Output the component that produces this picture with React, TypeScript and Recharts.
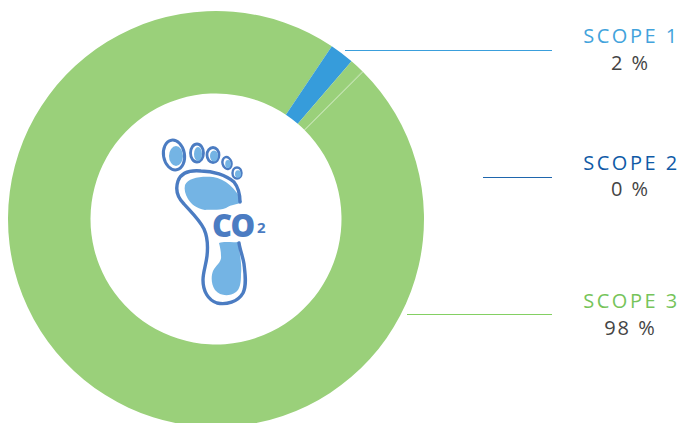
import React from 'react';
import { PieChart, Pie, Cell } from 'recharts';

// ring segments, clockwise from the seam at the upper right
const segmentNames = ['Scope 3', 'Scope 1', 'Scope 3 rest', 'Scope 2'];
const segmentValues = [96.9, 1.9, 1.12, 0.08];
const segmentColors = ['#9ad07a', '#369cdb', '#9ad07a', '#aad88f'];

const scopeNames = ['SCOPE 1', 'SCOPE 2', 'SCOPE 3'];
const scopeShares = ['2 %', '0 %', '98 %'];
const scopeColors = ['#42a3dc', '#0f5aa6', '#76c45a'];
const lineColors = ['#3a9fdc', '#1f66ad', '#84d063'];

const ringData = segmentNames.map((name, i) => ({ name, value: segmentValues[i] }));

const labelLayout = [
  { lineY: 50.5, lineX: 345, titleY: 43, shareY: 70 },
  { lineY: 177.5, lineX: 483, titleY: 170, shareY: 196 },
  { lineY: 314.5, lineX: 407, titleY: 308, shareY: 335 },
];

const FootIcon = () => {
  const outline = '#4b7cc2';
  const fill = '#74b4e4';
  return (
    <g>
      <path d="M185 185 C188 178 200 176 213 177 C225 179 236 188 242 202 C236 205 232 204 226 208 C218 211 209 209 205 210 C196 208 191 204 188 199 C185 194 184 189 185 185 Z" fill={fill} />
      <path d="M219 243 C225 241 232 243 238 242 C240 255 242 265 241 274 C241 283 240 289 236 292 C229 297 220 296 215 290 C211 284 211 276 213 271 C216 265 222 262 221 256 C221 251 220 247 219 243 Z" fill={fill} />
      <path d="M240 202 C240 194 238 187 234 182 C226 175 213 171 201 171 C190 170 181 173 178 181 C175 190 178 198 184 204 C191 212 199 219 204 229 C208 238 208 247 207 256 C206 265 203 272 203 280 C203 291 208 300 217 303 C226 305 238 302 243 293 C247 285 245 273 244 264 C243 257 240 250 239 243" fill="none" stroke={outline} strokeWidth={3.4} strokeLinecap="round" />
      <ellipse cx={174} cy={155} rx={10.5} ry={15} transform="rotate(-10 174 155)" fill="#fff" stroke={outline} strokeWidth={3} />
      <ellipse cx={176} cy={156} rx={7} ry={10} fill={fill} />
      <ellipse cx={197} cy={153} rx={6.5} ry={9} fill="#fff" stroke={outline} strokeWidth={2.8} />
      <ellipse cx={198} cy={154} rx={4} ry={7} fill={fill} />
      <ellipse cx={213} cy={155} rx={6} ry={7.5} fill="#fff" stroke={outline} strokeWidth={2.8} />
      <ellipse cx={214} cy={156} rx={4} ry={5.5} fill={fill} />
      <ellipse cx={227} cy={163} rx={4.5} ry={6} transform="rotate(-15 227 163)" fill="#fff" stroke={outline} strokeWidth={2.4} />
      <ellipse cx={228} cy={164} rx={2.8} ry={4} fill={fill} />
      <ellipse cx={237} cy={173} rx={4.5} ry={5.5} fill="#fff" stroke={outline} strokeWidth={2.4} />
      <ellipse cx={238} cy={174} rx={3} ry={3.8} fill={fill} />
      <rect x={210} y={211} width={60} height={30} fill="#fff" />
      <text x={212} y={237} fontFamily="'Open Sans', sans-serif" fontWeight={800} fontSize={31} letterSpacing={-1.5} fill={outline}>CO</text>
      <text x={257} y={233} fontFamily="'Open Sans', sans-serif" fontWeight={700} fontSize={15} fill={outline}>2</text>
    </g>
  );
};

export default function App() {
  return (
    <div style={{ position: 'absolute', left: 0, top: 0, width: 681, height: 423, overflow: 'hidden', background: '#fff' }}>
      <PieChart width={681} height={423} margin={{ top: 0, right: 0, bottom: 0, left: 0 }}>
        <Pie
          data={ringData}
          dataKey="value"
          nameKey="name"
          cx={216}
          cy={219}
          innerRadius={125.5}
          outerRadius={208}
          startAngle={45}
          endAngle={-315}
          stroke="none"
          isAnimationActive={false}
        >
          {ringData.map((d, i) => (
            <Cell key={d.name} fill={segmentColors[i]} stroke="none" />
          ))}
        </Pie>
      </PieChart>
      <svg width={681} height={423} style={{ position: 'absolute', left: 0, top: 0 }}>
        <FootIcon />
        {scopeNames.map((name, i) => {
          const l = labelLayout[i];
          return (
            <g key={name}>
              <line x1={l.lineX} x2={552} y1={l.lineY} y2={l.lineY} stroke={lineColors[i]} strokeWidth={1} />
              <text x={631.5} y={l.titleY} textAnchor="middle" fontFamily="'Open Sans', sans-serif" fontSize={20} letterSpacing={2.5} fill={scopeColors[i]}>{name}</text>
              <text x={630.5} y={l.shareY} textAnchor="middle" fontFamily="'Open Sans', sans-serif" fontSize={20} letterSpacing={2} fill="#444">{scopeShares[i]}</text>
            </g>
          );
        })}
      </svg>
    </div>
  );
}
